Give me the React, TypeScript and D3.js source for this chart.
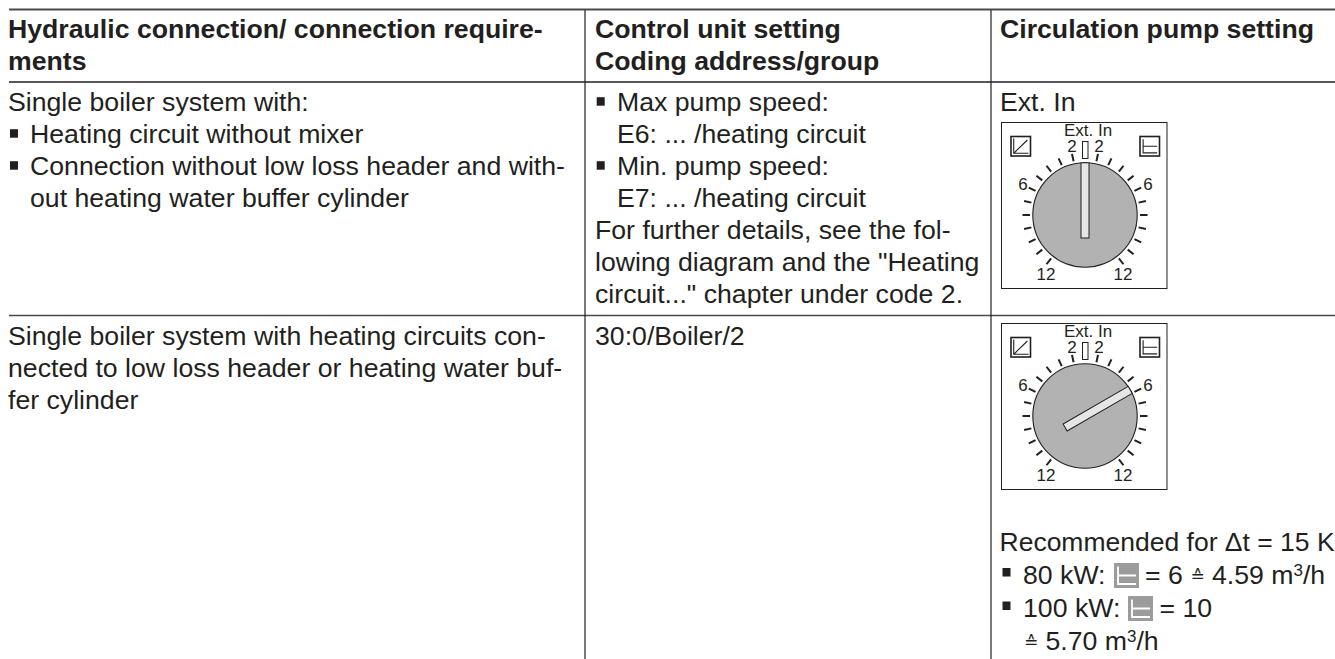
import * as d3 from 'd3'

const W = 1335
const H = 659

const colRules = [585, 991]
const rowRules = [
  { y: 9.5, w: 2, c: '#4a4a4a' },
  { y: 82, w: 1.4, c: '#231f20' },
  { y: 315.5, w: 1.6, c: '#4a4a4a' },
]

const headerCells = [
  { x: 8, lines: ['Hydraulic connection/ connection require-', 'ments'] },
  { x: 595, lines: ['Control unit setting', 'Coding address/group'] },
  { x: 1000, lines: ['Circulation pump setting'] },
]

const row1Left = [
  { t: 'Single boiler system with:', b: false, x: 8 },
  { t: 'Heating circuit without mixer', b: true, x: 30 },
  { t: 'Connection without low loss header and with-', b: true, x: 30 },
  { t: 'out heating water buffer cylinder', b: false, x: 30 },
]
const row1Mid = [
  { t: 'Max pump speed:', b: true, x: 617 },
  { t: 'E6: ... /heating circuit', b: false, x: 617 },
  { t: 'Min. pump speed:', b: true, x: 617 },
  { t: 'E7: ... /heating circuit', b: false, x: 617 },
  { t: 'For further details, see the fol-', b: false, x: 595 },
  { t: 'lowing diagram and the "Heating', b: false, x: 595 },
  { t: 'circuit..." chapter under code 2.', b: false, x: 595 },
]
const row2Left = [
  'Single boiler system with heating circuits con-',
  'nected to low loss header or heating water buf-',
  'fer cylinder',
]
const row2Mid = '30:0/Boiler/2'
const pumpLabel = 'Ext. In'

// knob pointer angle in degrees, clockwise from straight up
const knobs = [
  { top: 122.5, angle: 0 },
  { top: 323.5, angle: 60 },
]

// scale marks either side of the top of the dial
const markAngles = [12, 25, 38, 51, 64, 77, 90, 103, 116, 129, 142]
const dialLabels = [
  { t: '2', dx: -13, dy: -63 },
  { t: '2', dx: 14, dy: -63 },
  { t: '6', dx: -62, dy: -25 },
  { t: '6', dx: 63, dy: -25 },
  { t: '12', dx: -39, dy: 64.5 },
  { t: '12', dx: 38, dy: 64.5 },
]

const FONT = 'Liberation Sans, Arial, sans-serif'
const INK = '#231f20'
const FS = 26.67

// text baselines, roughly 32px apart
const lineY = (top: number) => d3.scaleLinear().domain([0, 1]).range([top, top + 32])

function SwitchIcon({ x, y, size, bg, fg, sw, diag }: { x: number; y: number; size: number; bg: string; fg: string; sw: number; diag?: boolean }) {
  const p = d3.scaleLinear().domain([0, 1]).range([0, size])
  const framed = bg === '#fff'
  return (
    <g transform={`translate(${x},${y})`}>
      <rect width={size} height={size} fill={bg} stroke={framed ? INK : 'none'} strokeWidth={1.6} />
      {diag ? (
        <path d={`M${p(0.14)},${p(0.1)}V${p(0.86)}H${p(0.9)}M${p(0.14)},${p(0.86)}L${p(0.84)},${p(0.18)}`} fill="none" stroke={fg} strokeWidth={sw} />
      ) : (
        <path d={`M${p(0.16)},${p(0.14)}V${p(0.84)}H${p(0.88)}M${p(0.16)},${p(0.5)}H${p(0.88)}`} fill="none" stroke={fg} strokeWidth={sw} />
      )}
    </g>
  )
}

function Knob({ top, angle }: { top: number; angle: number }) {
  const left = 1001.5
  const cx = 1085
  const cy = top + 92.5
  const r = 52.2
  const markR = d3.scaleLinear().domain([0, 1]).range([55, 62.5])
  const polar = (deg: number, rad: number) => {
    const a = ((deg - 90) * Math.PI) / 180
    return [cx + rad * Math.cos(a), cy + rad * Math.sin(a)]
  }
  return (
    <g>
      <rect x={left} y={top} width={165.5} height={166} fill="#fff" stroke={INK} strokeWidth={1} />
      <text x={cx + 3} y={top + 13.5} fontSize={17} textAnchor="middle" fill={INK}>{pumpLabel}</text>
      <rect x={cx - 2.5} y={top + 19} width={5.5} height={17} fill="#fff" stroke={INK} strokeWidth={1} />
      {dialLabels.map((l, i) => (
        <text key={i} x={cx + l.dx} y={cy + l.dy} fontSize={17} textAnchor="middle" fill={INK}>{l.t}</text>
      ))}
      {markAngles.flatMap(a => [a, -a]).map(a => {
        const [x1, y1] = polar(a, markR(0))
        const [x2, y2] = polar(a, markR(1))
        return <line key={a} x1={x1} y1={y1} x2={x2} y2={y2} stroke={INK} strokeWidth={2} />
      })}
      <circle cx={cx} cy={cy} r={r} fill="#b2b2b2" stroke={INK} strokeWidth={1.1} />
      <g transform={`rotate(${angle},${cx},${cy})`}>
        <rect x={cx - 4} y={cy - r} width={8} height={r + 23} fill="#e6e6e6" stroke={INK} strokeWidth={1} />
      </g>
      <SwitchIcon x={1011} y={top + 14} size={19.5} bg="#fff" fg={INK} sw={1.1} diag />
      <SwitchIcon x={1140} y={top + 14} size={19.5} bg="#fff" fg={INK} sw={1.1} />
    </g>
  )
}

export default function App() {
  const y1 = lineY(110.7)
  const y2 = lineY(345)
  const yHead = lineY(37.5)
  return (
    <svg width={W} height={H} viewBox={`0 0 ${W} ${H}`} style={{ position: 'absolute', left: 0, top: 0, display: 'block' }} fontFamily={FONT}>
      <rect width={W} height={H} fill="#fff" />

      {rowRules.map(r => (
        <line key={r.y} x1={9} x2={W} y1={r.y} y2={r.y} stroke={r.c} strokeWidth={r.w} />
      ))}
      {colRules.map(x => (
        <line key={x} x1={x} x2={x} y1={10} y2={H} stroke={INK} strokeWidth={1.2} />
      ))}

      {headerCells.map(c =>
        c.lines.map((l, i) => (
          <text key={l} x={c.x} y={yHead(i)} fontSize={FS} fontWeight={700} fill={INK}>{l}</text>
        )),
      )}

      {row1Left.map((l, i) => (
        <g key={l.t}>
          {l.b && <rect x={10} y={y1(i) - 13.5} width={8} height={8.5} fill={INK} />}
          <text x={l.x} y={y1(i)} fontSize={FS} fill={INK}>{l.t}</text>
        </g>
      ))}
      {row1Mid.map((l, i) => (
        <g key={l.t}>
          {l.b && <rect x={596.7} y={y1(i) - 13.5} width={8} height={8.5} fill={INK} />}
          <text x={l.x} y={y1(i)} fontSize={FS} fill={INK}>{l.t}</text>
        </g>
      ))}
      <text x={1000} y={110.7} fontSize={FS} fill={INK}>{pumpLabel}</text>
      <Knob {...knobs[0]} />

      {row2Left.map((l, i) => (
        <text key={l} x={8} y={y2(i)} fontSize={FS} fill={INK}>{l}</text>
      ))}
      <text x={595} y={345} fontSize={FS} fill={INK}>{row2Mid}</text>
      <Knob {...knobs[1]} />

      <text x={999.5} y={550.7} fontSize={26.5} fill={INK}>Recommended for Δt = 15 K</text>

      <rect x={1002.5} y={568} width={8} height={8.5} fill={INK} />
      <text x={1023} y={584} fontSize={FS} fill={INK}>80 kW:</text>
      <SwitchIcon x={1114} y={563} size={25} bg="#9c9c9c" fg="#fff" sw={1.8} />
      <text x={1145} y={584} fontSize={FS} fill={INK}>= 6</text>
      <text x={1190.5} y={582} fontSize={17} fontFamily="DejaVu Sans" fill={INK}>≙</text>
      <text x={1212} y={584} fontSize={FS} fill={INK}>4.59 m<tspan fontSize={17} dy={-8}>3</tspan><tspan dy={8}>/h</tspan></text>

      <rect x={1002.5} y={601.5} width={8} height={8.5} fill={INK} />
      <text x={1023} y={616.7} fontSize={FS} fill={INK}>100 kW:</text>
      <SwitchIcon x={1128} y={596} size={25} bg="#9c9c9c" fg="#fff" sw={1.8} />
      <text x={1159.5} y={616.7} fontSize={FS} fill={INK}>= 10</text>

      <text x={1024} y={648} fontSize={17} fontFamily="DejaVu Sans" fill={INK}>≙</text>
      <text x={1045.5} y={650} fontSize={FS} fill={INK}>5.70 m<tspan fontSize={17} dy={-8}>3</tspan><tspan dy={8}>/h</tspan></text>
    </svg>
  )
}
